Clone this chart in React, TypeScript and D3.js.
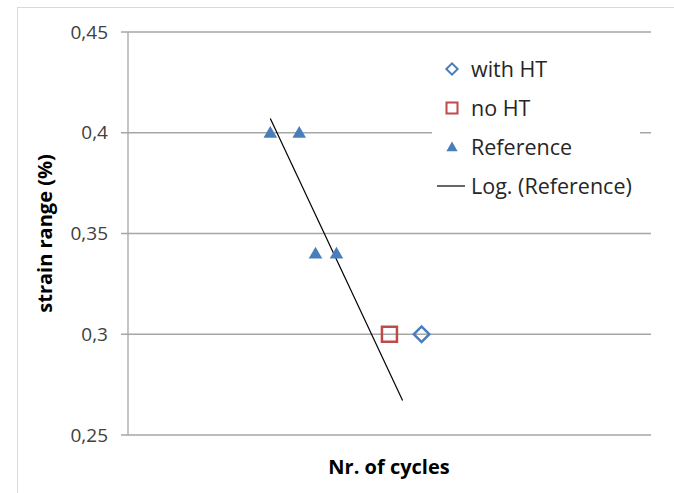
import React from 'react';
import * as d3 from 'd3';

// the x axis carries no labels, so cycles are estimated on a log scale
const withHtX = [48300];
const withHtY = [0.3];
const noHtX = [31600];
const noHtY = [0.3];
const refX = [6550, 9600, 11900, 15700];
const refY = [0.4, 0.4, 0.34, 0.34];
const trendRange = [6550, 37600];
const yTicks = [0.25, 0.3, 0.35, 0.4, 0.45];
const legendItems = ['with HT', 'no HT', 'Reference', 'Log. (Reference)'];

const blue = '#4a7ebb';
const red = '#be4b48';
const font = "'Open Sans', sans-serif";

export default function App() {
  const W = 674;
  const H = 493;
  const margin = { top: 32, right: 23, bottom: 58, left: 128 };
  const innerW = W - margin.left - margin.right;
  const innerH = H - margin.top - margin.bottom;

  const x = d3.scaleLog().domain([1000, 1000000]).range([0, innerW]);
  const y = d3.scaleLinear().domain([0.25, 0.45]).range([innerH, 0]);

  // Excel style log trendline: y = a*ln(x) + b, least squares on the reference points
  const lx = refX.map(v => Math.log(v));
  const mx = d3.mean(lx) as number;
  const my = d3.mean(refY) as number;
  const sxy = d3.sum(lx, (v, i) => (v - mx) * (refY[i] - my));
  const sxx = d3.sum(lx, v => (v - mx) * (v - mx));
  const a = sxy / sxx;
  const b = my - a * mx;
  const trend = trendRange.map(v => [v, a * Math.log(v) + b]);

  const line = d3.line<number[]>()
    .x(d => x(d[0]))
    .y(d => y(d[1]));

  const fmt = (v: number) => String(+v.toFixed(2)).replace('.', ',');
  const tri = d3.symbol().type(d3.symbolTriangle).size(80)() as string;

  const legX = 452;
  const legY0 = 69;
  const legStep = 39;

  return (
    <svg width={W} height={H} style={{ position: 'absolute', left: 0, top: 0 }}>
      <rect x={0} y={0} width={W} height={H} fill="#fff" />
      <rect x={17.5} y={7.5} width={W + 10} height={H} fill="none" stroke="#d9d9d9" />
      <g transform={`translate(${margin.left},${margin.top})`}>
        {yTicks.map(t => (
          <g key={t} transform={`translate(0,${y(t)})`}>
            <line x1={-7} x2={innerW} stroke="#a6a6a6" strokeWidth={1.3} />
            <text x={-20} dy="0.35em" textAnchor="end" fontFamily={font} fontSize={19} fill="#404040">
              {fmt(t)}
            </text>
          </g>
        ))}
        <line x1={0} x2={0} y1={0} y2={innerH} stroke="#a6a6a6" strokeWidth={1.3} />

        <path d={line(trend) as string} fill="none" stroke="#000" strokeWidth={1.2} />

        {refX.map((v, i) => (
          <path key={i} d={tri} transform={`translate(${x(v)},${y(refY[i]) + 1})`} fill={blue} />
        ))}
        {noHtX.map((v, i) => (
          <rect key={i} x={x(v) - 7.5} y={y(noHtY[i]) - 7.5} width={15} height={15}
            fill="none" stroke={red} strokeWidth={2.5} />
        ))}
        {withHtX.map((v, i) => (
          <rect key={i} x={-5.5} y={-5.5} width={11} height={11}
            transform={`translate(${x(v)},${y(withHtY[i])}) rotate(45)`}
            fill="none" stroke={blue} strokeWidth={2.5} />
        ))}
      </g>

      <text transform={`translate(52,${margin.top + innerH / 2}) rotate(-90)`} textAnchor="middle"
        fontFamily={font} fontSize={20} fontWeight="bold" fill="#000">
        strain range (%)
      </text>
      <text x={389} y={474} textAnchor="middle" fontFamily={font} fontSize={20} fontWeight="bold" fill="#000">
        Nr. of cycles
      </text>

      <rect x={432} y={50} width={208} height={156} fill="#fff" />
      {legendItems.map((name, i) => {
        const cy = legY0 + i * legStep;
        return (
          <g key={name}>
            {i === 0 && (
              <rect x={-4} y={-4} width={8} height={8} transform={`translate(${legX},${cy}) rotate(45)`}
                fill="none" stroke={blue} strokeWidth={2} />
            )}
            {i === 1 && (
              <rect x={legX - 5.5} y={cy - 5.5} width={11} height={11} fill="none" stroke={red} strokeWidth={2} />
            )}
            {i === 2 && (
              <path d={d3.symbol().type(d3.symbolTriangle).size(55)() as string}
                transform={`translate(${legX},${cy + 1})`} fill={blue} />
            )}
            {i === 3 && <line x1={437} x2={465} y1={cy} y2={cy} stroke="#000" strokeWidth={1.2} />}
            <text x={471} y={cy} dy="0.35em" fontFamily={font} fontSize={21.5} fill="#262626">{name}</text>
          </g>
        );
      })}
    </svg>
  );
}
